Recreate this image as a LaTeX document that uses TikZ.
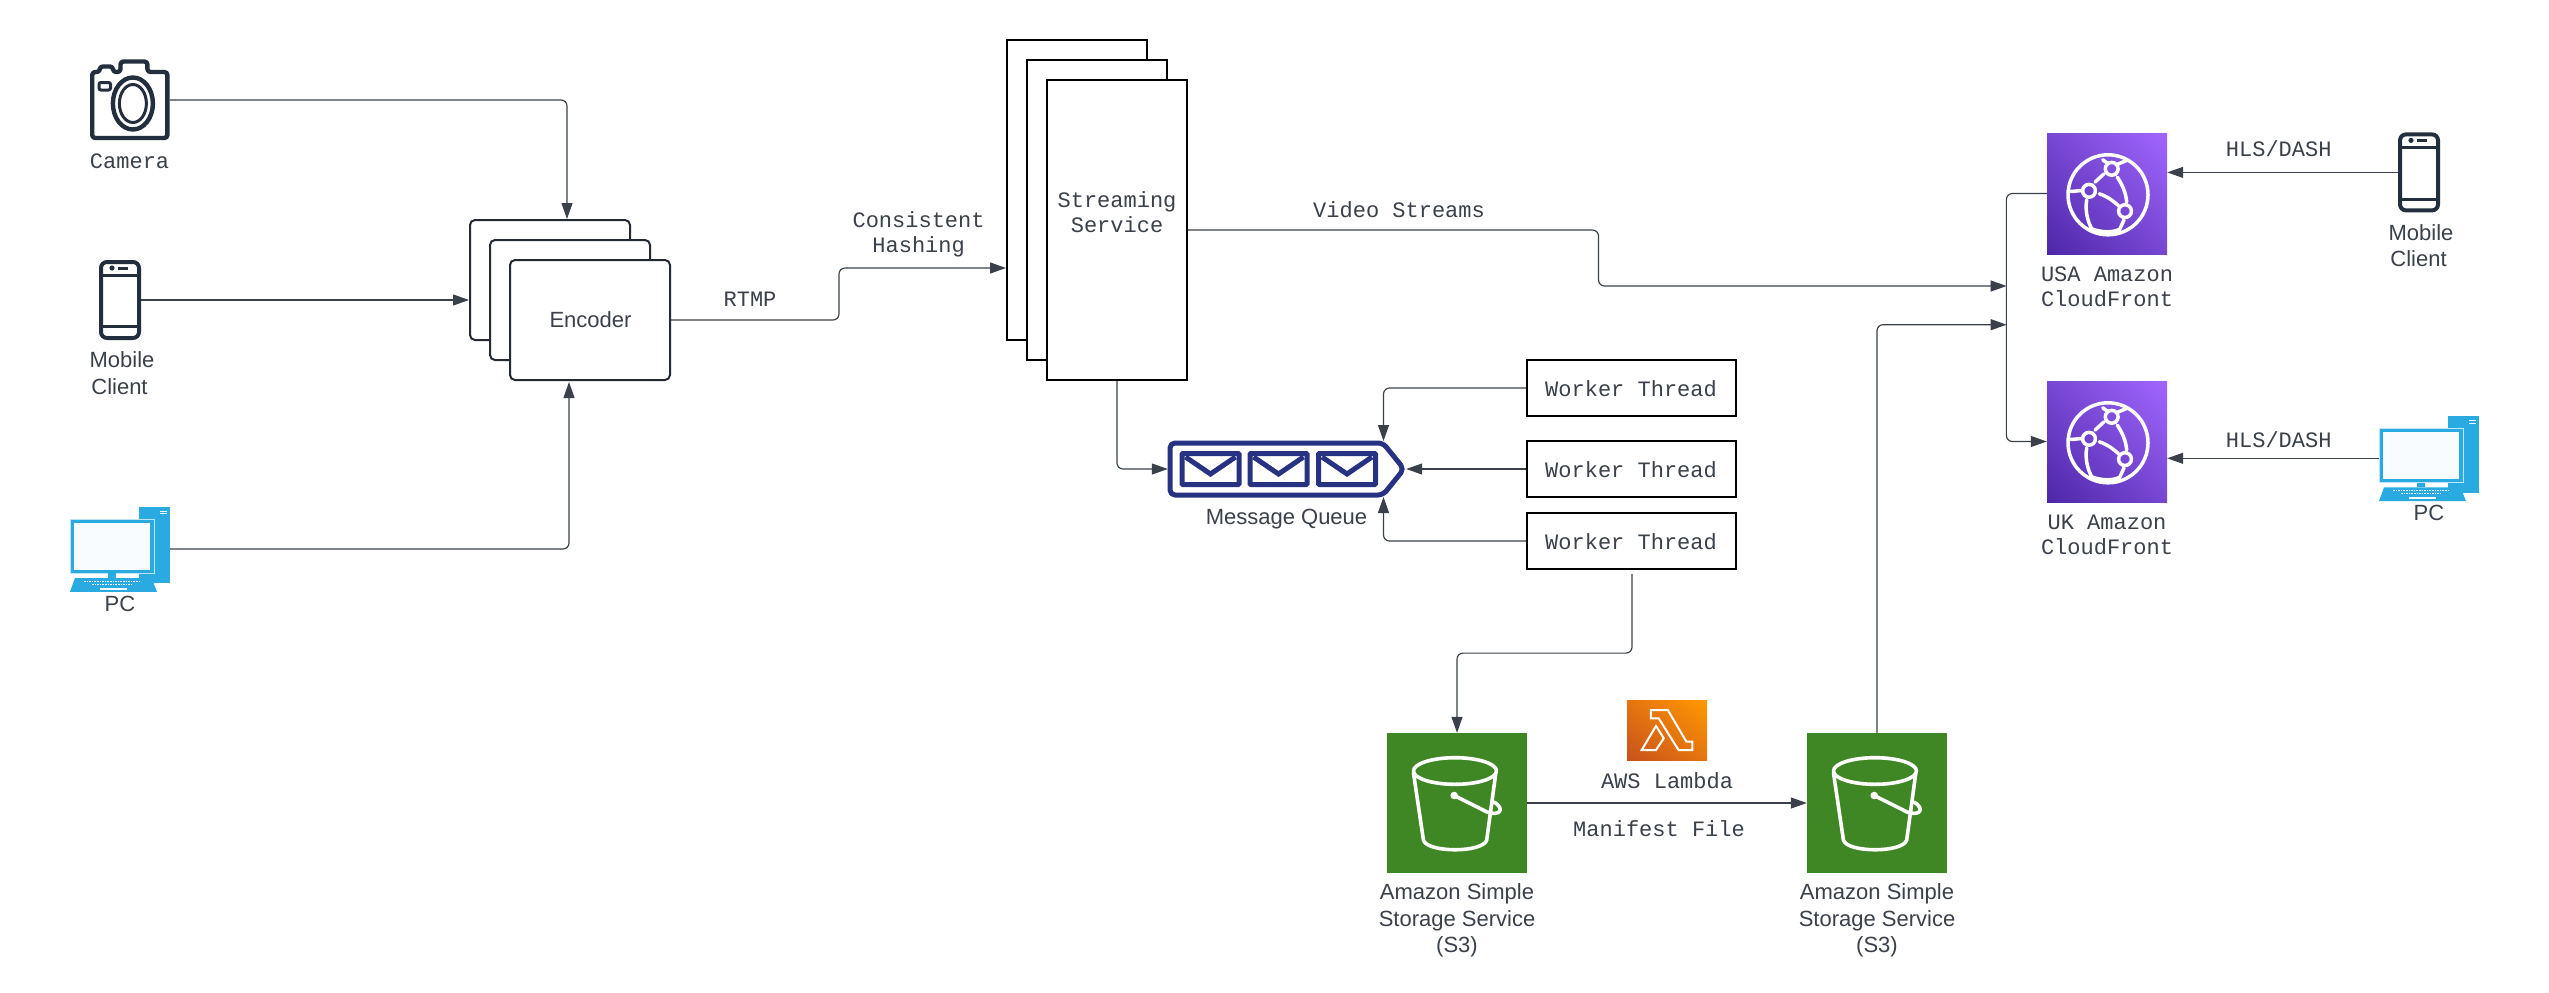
\documentclass[tikz,border=0pt]{standalone}
\usepackage{fontspec}
\setmainfont{Liberation Sans}
\setmonofont{Liberation Mono}
\usetikzlibrary{arrows.meta,shadings}
\definecolor{lc}{HTML}{3A414A}
\definecolor{icondark}{HTML}{232F3E}
\definecolor{pcblue}{HTML}{29ABE2}
\definecolor{qnavy}{HTML}{273282}
\definecolor{sgreen}{HTML}{3F8624}
\definecolor{encline}{HTML}{232A33}
\tikzset{
  x=1pt,y=-1pt,
  sanslab/.style={inner sep=0pt,text=lc,align=center,font=\fontsize{22}{26.5}\selectfont},
  monolab/.style={inner sep=0pt,text=lc,align=center,font=\fontsize{22}{25}\selectfont\ttfamily},
  conn/.style={draw=lc,line width=1.15pt,rounded corners=6pt,-{Triangle[length=16pt,width=11pt]}},
  encbox/.style={draw=encline,fill=white,line width=2pt,rounded corners=5pt,minimum width=160pt,minimum height=120pt,inner sep=0pt},
  ssbox/.style={draw=black,fill=white,line width=2pt,minimum width=140pt,minimum height=300pt,inner sep=0pt},
  wkbox/.style={draw=black,fill=white,line width=2pt,minimum width=209pt,minimum height=56pt,inner sep=0pt},
  cfbox/.style={minimum width=120pt,minimum height=121pt,inner sep=0pt,shade,lower left=cfA,upper right=cfC,upper left=cfB,lower right=cfB},
  sbox/.style={minimum width=140pt,minimum height=140pt,inner sep=0pt,fill=sgreen},
  lbbox/.style={minimum width=80pt,minimum height=60pt,inner sep=0pt,shade,lower left=lbA,upper right=lbC,upper left=lbB,lower right=lbB},
  phoneicon/.pic={
    \draw[icondark,line width=4pt,rounded corners=6pt] (-19,-38) rectangle (19,38);
    \draw[icondark,line width=3pt] (-19,-25) -- (19,-25) (-19,26.6) -- (19,26.6);
    \fill[icondark] (-8,-32) circle (2.6);
    \draw[icondark,line width=3pt] (-1.6,-32) -- (8,-32);
  },
  pcicon/.pic={
    \fill[pcblue] (18.7,-42.5) rectangle (50,34.4);
    \draw[white,line width=1pt] (40,-38) -- (47,-38) (40,-35.3) -- (47,-35.3);
    \fill[pcblue,draw=white!70!pcblue,line width=1pt] (-50,-30) rectangle (34.5,24.4);
    \fill[white!97!pcblue] (-46,-26) rectangle (30.3,20.6);
    \fill[pcblue] (-12,24.4) rectangle (-3.7,29);
    \fill[pcblue] (-45,29) -- (31.6,29) -- (37,42.8) -- (-50,42.8) -- cycle;
    \draw[white,line width=1.2pt,dash pattern=on 1.6pt off 1pt] (-36,32.5) -- (19,32.5) (-28,35.5) -- (12,35.5);
    \fill[white] (-20.2,39) rectangle (6.7,41);
  },
  globeicon/.pic={
    \draw[white,line width=3.5pt,line cap=round]
      (0,0) circle (40)
      (3.7,-26) circle (6.4) (-19,-4) circle (6.4) (17,16.3) circle (6.4)
      (-26.3,-4.3) -- (-37.3,-3.3)
      (-13,-12.7) -- (-4,-21)
      (-8.7,-1) .. controls (0,2) and (5,6) .. (10.3,10.7)
      (9.3,-17.7) .. controls (15,-9) and (18,-1) .. (18.7,7.3)
      (-21.3,5) .. controls (-23,15) and (-21,25) .. (-16.3,34)
      (-16.3,34) .. controls (-6,38) and (6,38) .. (12,34)
      (16,25) -- (12,34)
      (-5.3,-35) -- (0.3,-31)
      (8.7,-30.3) -- (18.7,-34.3);
  },
  bucketicon/.pic={
    \draw[white,line width=3.6pt,line join=round,line cap=round]
      (-2,-32) ellipse [x radius=41.5,y radius=13.3]
      (-43.5,-30) -- (-33.6,37) .. controls (-30,50) and (26,50) .. (29.7,37) -- (38.8,-30)
      (-2.8,-7.5) -- (30,9) .. controls (42,13.5) and (49,6.5) .. (37,-1);
    \fill[white] (-2.8,-7.5) circle (3.8);
  },
  lambdaicon/.pic={
    \draw[white,line width=2pt,line join=miter]
      (-16.2,-20) -- (0.8,-20) -- (19.4,11.7) -- (25.3,11.7) -- (25.3,20) -- (11.5,20) -- (-8.3,-11.7) -- (-16.2,-11.7) -- cycle
      (-11,-4) -- (-3.2,8.3) -- (-11,20) -- (-25.3,20) -- cycle;
  },
  envicon/.pic={
    \draw[qnavy,line width=5pt,rounded corners=1pt,fill=white] (-28.5,-15.5) rectangle (28.5,15.5);
    \draw[qnavy,line width=5pt] (-25,-12) -- (0,5) -- (25,-12);
  },
}
\definecolor{cfA}{HTML}{4D27A8}
\definecolor{cfB}{HTML}{7747D3}
\definecolor{cfC}{HTML}{A166FF}
\definecolor{lbA}{HTML}{C8511B}
\definecolor{lbB}{HTML}{E47510}
\definecolor{lbC}{HTML}{FF9900}
\begin{document}
\begin{tikzpicture}
\useasboundingbox (0,0) rectangle (2549,993);
\fill[white] (0,0) rectangle (2549,993);

% Camera
\node[inner sep=0pt,minimum width=79.4pt,minimum height=80pt] (cam) at (129.7,100) {};
\draw[icondark,line width=4.4pt,line join=round,rounded corners=3pt]
  (92.2,72) -- (99.8,72) -- (99.8,66.5) -- (113,66.5) -- (113,72) -- (120.5,72) -- (120.5,61.5) -- (147.4,61.5) -- (147.4,72) -- (167.4,72) -- (167.4,138) -- (92.2,138) -- cycle;
\draw[icondark,line width=4.4pt] (132.9,103.5) ellipse [x radius=20,y radius=26];
\draw[icondark,line width=3pt] (132.9,103.5) ellipse [x radius=13.5,y radius=19];
\draw[icondark,line width=3pt,rounded corners=2pt] (99,82.5) rectangle (110.5,90);
\node[monolab] (camlab) at (129.6,161) {Camera};

% Mobile client (left)
\node[inner sep=0pt,minimum width=42pt,minimum height=80pt] (ph1) at (120,300) {};
\pic at (ph1) {phoneicon};
\node[sanslab] (ph1lab) at (122,373) {Mobile\\Client\kern5pt};

% PC (left)
\node[inner sep=0pt,minimum width=100pt,minimum height=85pt] (pc1) at (120,549) {};
\pic at (pc1) {pcicon};
\node[sanslab] (pc1lab) at (120,604) {PC};

% Encoder stack
\node[encbox] (enc1) at (550,280) {};
\node[encbox] (enc2) at (570,300) {};
\node[encbox] (enc3) at (590,320) {};
\node[sanslab] (enclab) at (590.5,319.5) {Encoder};

% Streaming stack
\node[ssbox] (ss1) at (1077,190) {};
\node[ssbox] (ss2) at (1097,210) {};
\node[ssbox] (ss3) at (1117,230) {};
\node[monolab] (sslab) at (1117,212.5) {Streaming\\Service};

% Message queue
\node[inner sep=0pt,minimum width=238pt,minimum height=54pt] (mq) at (1287,469) {};
\draw[qnavy,line width=5pt,line join=round,rounded corners=5pt] (1170,443) -- (1383,443) -- (1404,469) -- (1383,495) -- (1170,495) -- cycle;
\pic at (1210.5,469) {envicon};
\pic at (1278.5,469) {envicon};
\pic at (1347,469) {envicon};
\node[sanslab] (mqlab) at (1286.5,519) {Message Queue};

% Workers
\node[wkbox] (w1) at (1631.5,388) {};
\node[wkbox] (w2) at (1631.5,469) {};
\node[wkbox] (w3) at (1631.5,541) {};
\node[monolab] (w1lab) at (1631,389) {Worker Thread};
\node[monolab] (w2lab) at (1631,470) {Worker Thread};
\node[monolab] (w3lab) at (1631,542) {Worker Thread};

% S3
\node[sbox] (s3a) at (1457,803) {};
\pic at (s3a) {bucketicon};
\node[sbox] (s3b) at (1877,803) {};
\pic at (s3b) {bucketicon};
\node[sanslab] (s3alab) at (1457,920.5) {Amazon Simple\\Storage Service\\(S3)};
\node[sanslab] (s3blab) at (1877,920.5) {Amazon Simple\\Storage Service\\(S3)};

% Lambda
\node[lbbox] (lb) at (1667,730) {};
\pic at (lb) {lambdaicon};
\node[monolab] (lblab) at (1667,780.5) {AWS Lambda};
\node[monolab] (mflab) at (1659,829) {Manifest File};

% CloudFront
\node[cfbox] (cf1) at (2107,193.5) {};
\pic at (2108,194.8) {globeicon};
\node[cfbox] (cf2) at (2107,441.5) {};
\pic at (2108,442.8) {globeicon};
\node[monolab] (cf1lab) at (2107,286.5) {USA Amazon\\CloudFront};
\node[monolab] (cf2lab) at (2107,534.5) {UK Amazon\\CloudFront};

% Right clients
\node[inner sep=0pt,minimum width=42pt,minimum height=80pt] (ph2) at (2419,172.4) {};
\pic at (ph2) {phoneicon};
\node[sanslab] (ph2lab) at (2421,245.5) {Mobile\\Client\kern5pt};
\node[inner sep=0pt,minimum width=100pt,minimum height=85pt] (pc2) at (2429,458.3) {};
\pic at (pc2) {pcicon};
\node[sanslab] (pc2lab) at (2429,513) {PC};

% Free connector ends
\coordinate (ssin) at (1006,268);
\coordinate (busA) at (2006.6,286);
\coordinate (busB) at (2006.6,324.7);
\coordinate (mqtop) at (1383.5,441);
\coordinate (mqbot) at (1383.5,497);
\coordinate (w3out) at (1632,574);

% Connectors
\draw[conn] (cam.east) -| ([xshift=17pt]enc1.north);
\draw[conn] (ph1.east) -- (ph1.east -| enc1.west);
\draw[conn] (pc1.east) -| ([xshift=-21pt,yshift=-1pt]enc3.south);
\draw[conn] (enc3.east) -- ++(168,0) |- (ssin);
\draw[conn] (ss3.south) |- (mq.west);
\draw[conn] (ss3.east) -- ++(410.5,0) |- (busA);
\draw[conn] (w1.west) -| (mqtop);
\draw[conn] (w2.west) -- (mq.east);
\draw[conn] (w3.west) -| (mqbot);
\draw[conn] (w3out) |- ([yshift=79.7pt]s3a.north) -- (s3a.north);
\draw[conn] (s3a.east) -- (s3b.west);
\draw[conn] (s3b.north) |- (busB);
\draw[conn] (cf1.west) -- ++(-40.4,0) |- (cf2.west);
\draw[conn] (ph2.west) -- (ph2.west -| cf1.east);
\draw[conn] (pc2.west) -- (pc2.west -| cf2.east);

% Connector labels
\node[monolab] (rtmp) at (750,299.5) {RTMP};
\node[monolab] (chash) at (918.6,234) {Consistent\\Hashing};
\node[monolab] (vs) at (1399,209.5) {Video Streams};
\node[monolab] (hls1) at (2278.7,149) {HLS/DASH};
\node[monolab] (hls2) at (2278.7,440) {HLS/DASH};
\end{tikzpicture}
\end{document}
